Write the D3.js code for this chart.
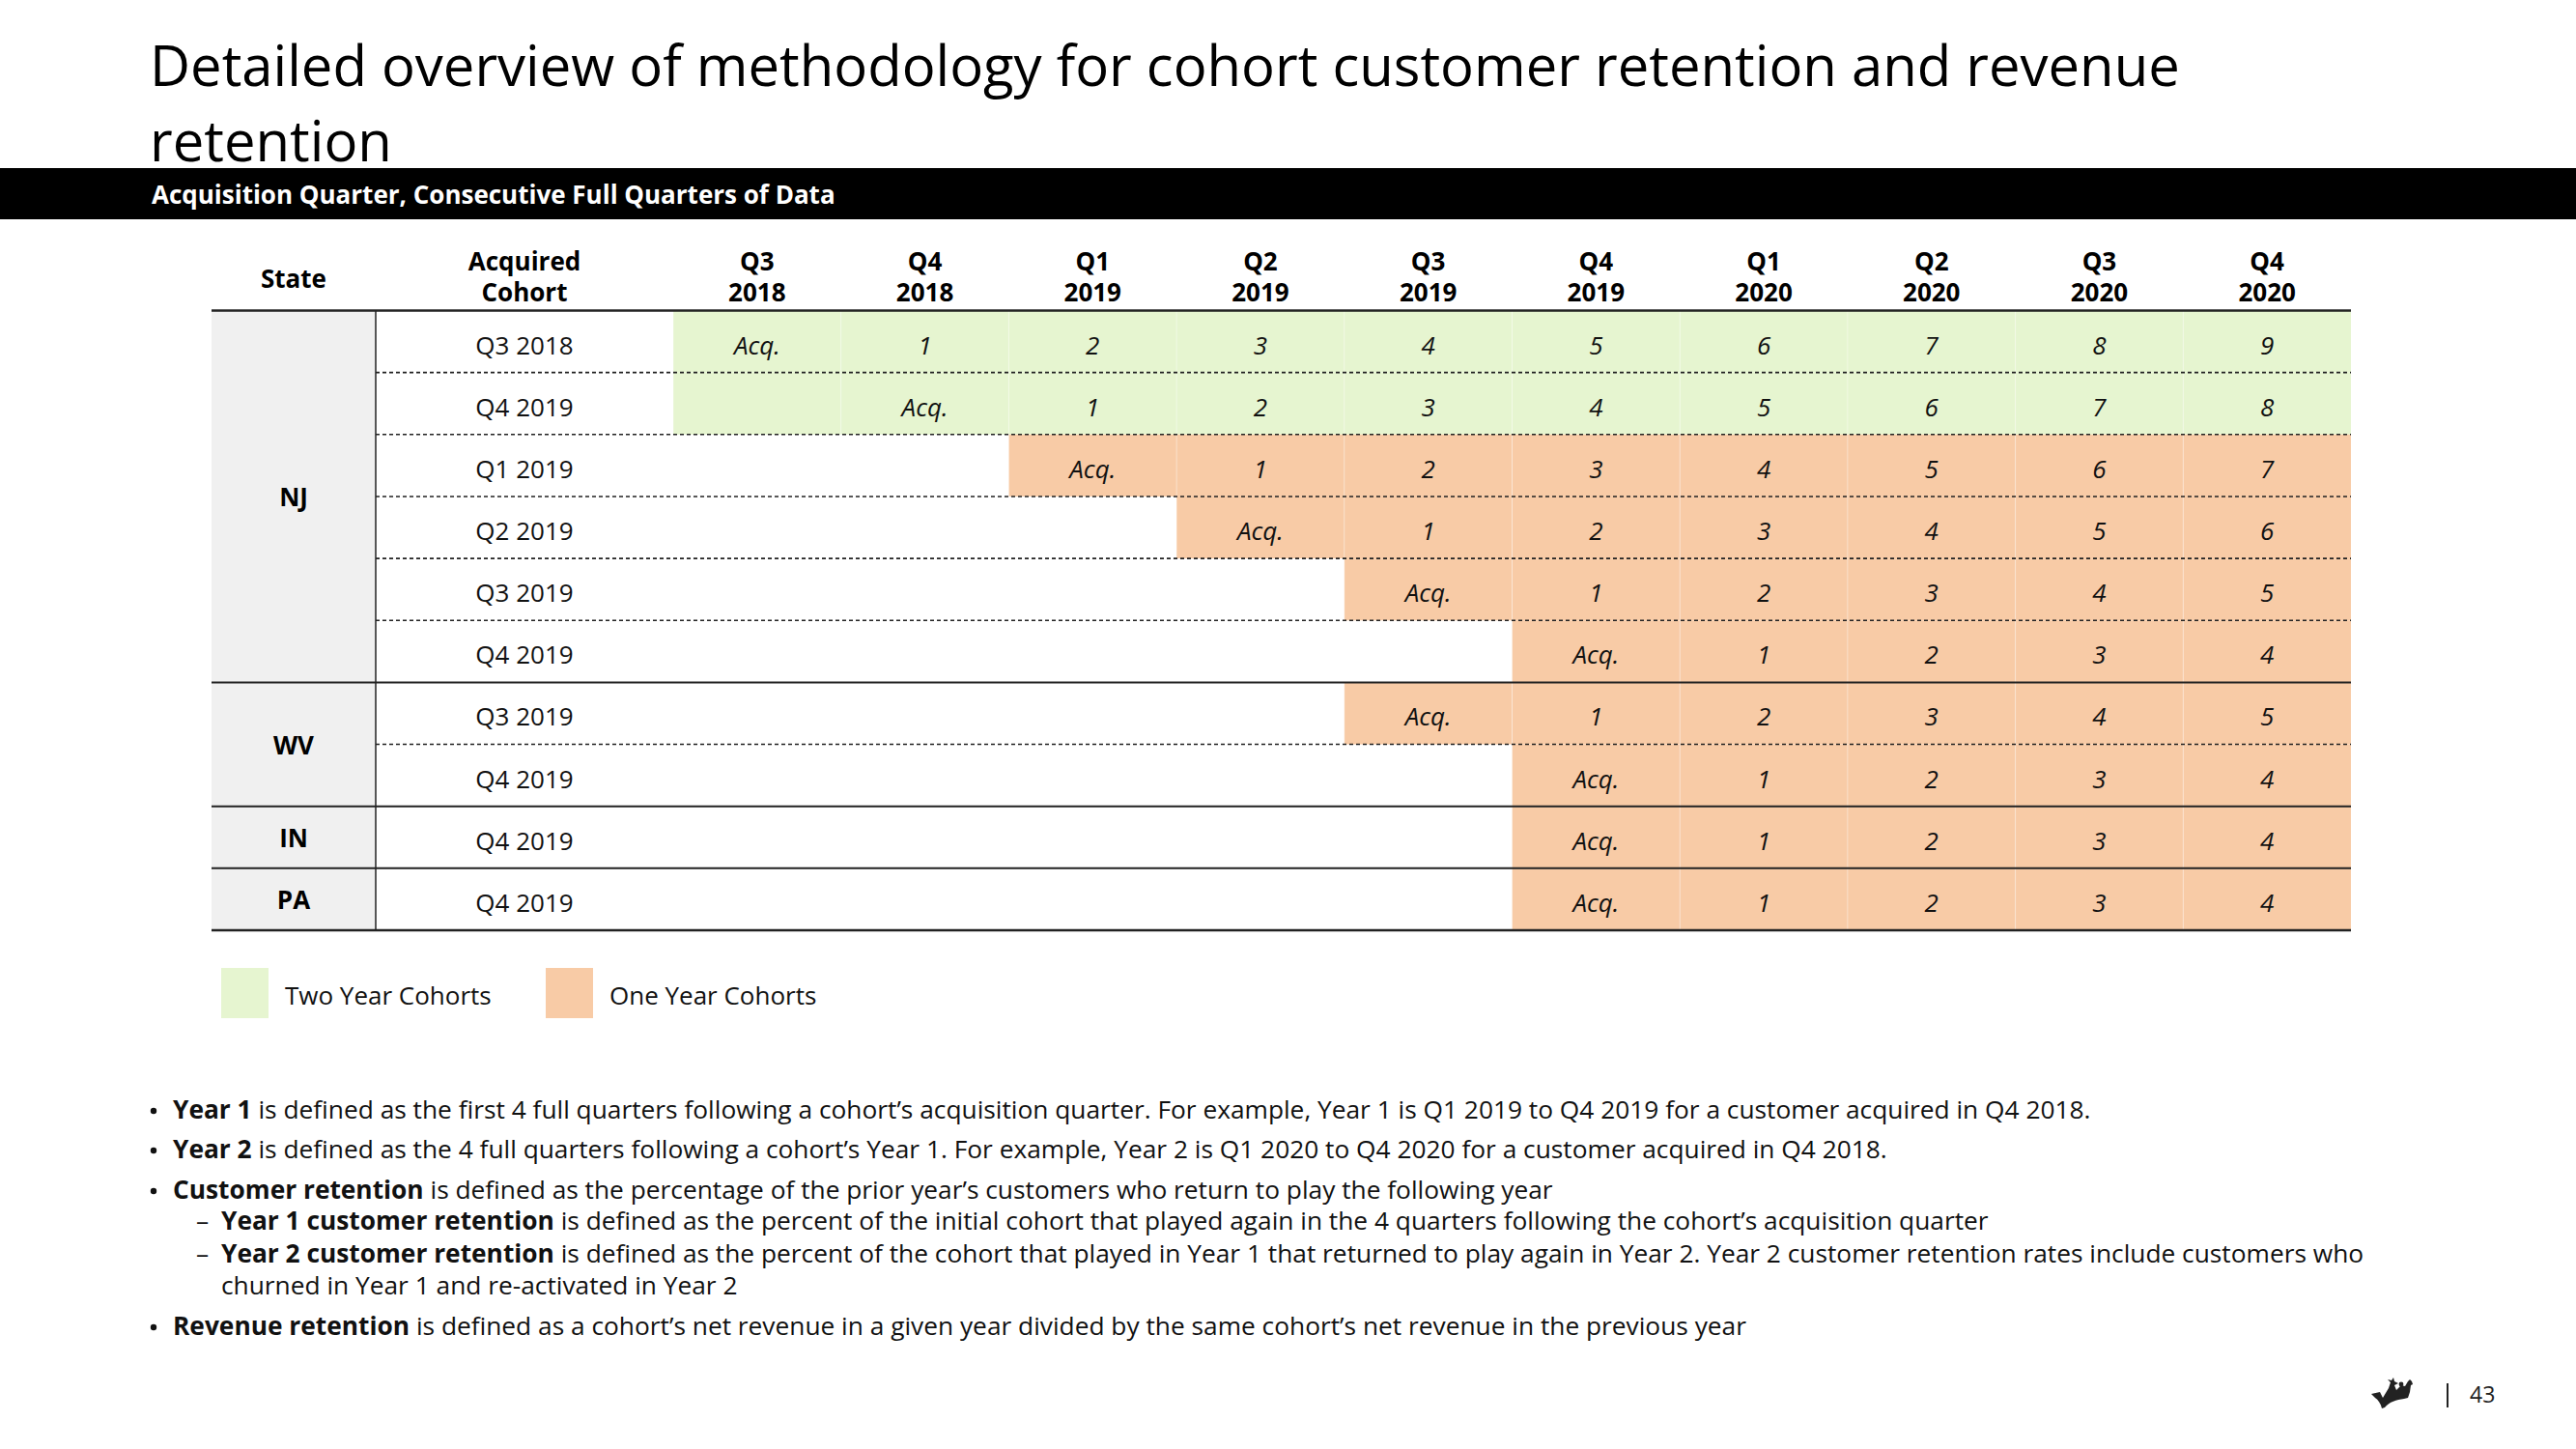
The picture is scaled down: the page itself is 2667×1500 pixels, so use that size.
<!DOCTYPE html>
<html>
<head>
<meta charset="utf-8">
<script src="https://cdn.jsdelivr.net/npm/d3@7/dist/d3.min.js"></script>
<style>
  html, body { margin: 0; padding: 0; background: #fff; }
  svg { display: block; font-family: "Open Sans", "Noto Sans", sans-serif; }
</style>
</head>
<body>
<script>
// ---------- DATA ----------
const quarterCols = ["Q3 2018","Q4 2018","Q1 2019","Q2 2019","Q3 2019","Q4 2019","Q1 2020","Q2 2020","Q3 2020","Q4 2020"];
const rowStates   = ["NJ","NJ","NJ","NJ","NJ","NJ","WV","WV","IN","PA"];
const rowCohorts  = ["Q3 2018","Q4 2019","Q1 2019","Q2 2019","Q3 2019","Q4 2019","Q3 2019","Q4 2019","Q4 2019","Q4 2019"];
const rowFillStart = ["Q3 2018","Q3 2018","Q1 2019","Q2 2019","Q3 2019","Q4 2019","Q3 2019","Q4 2019","Q4 2019","Q4 2019"];
const rowCohortType = ["two","two","one","one","one","one","one","one","one","one"];
const rowCellLabels = [
  ["Acq.","1","2","3","4","5","6","7","8","9"],
  ["","Acq.","1","2","3","4","5","6","7","8"],
  ["Acq.","1","2","3","4","5","6","7"],
  ["Acq.","1","2","3","4","5","6"],
  ["Acq.","1","2","3","4","5"],
  ["Acq.","1","2","3","4"],
  ["Acq.","1","2","3","4","5"],
  ["Acq.","1","2","3","4"],
  ["Acq.","1","2","3","4"],
  ["Acq.","1","2","3","4"]
];
const legendLabels = ["Two Year Cohorts","One Year Cohorts"];
const legendKeys = ["two","one"];
const titleLines = ["Detailed overview of methodology for cohort customer retention and revenue","retention"];
const subtitle = "Acquisition Quarter, Consecutive Full Quarters of Data";
const bullets = [
  {level:0, bold:"Year 1", text:" is defined as the first 4 full quarters following a cohort\u2019s acquisition quarter. For example, Year 1 is Q1 2019 to Q4 2019 for a customer acquired in Q4 2018."},
  {level:0, bold:"Year 2", text:" is defined as the 4 full quarters following a cohort\u2019s Year 1. For example, Year 2 is Q1 2020 to Q4 2020 for a customer acquired in Q4 2018."},
  {level:0, bold:"Customer retention", text:" is defined as the percentage of the prior year\u2019s customers who return to play the following year"},
  {level:1, bold:"Year 1 customer retention", text:" is defined as the percent of the initial cohort that played again in the 4 quarters following the cohort\u2019s acquisition quarter"},
  {level:1, bold:"Year 2 customer retention", text:" is defined as the percent of the cohort that played in Year 1 that returned to play again in Year 2. Year 2 customer retention rates include customers who"},
  {level:2, bold:"", text:"churned in Year 1 and re-activated in Year 2"},
  {level:0, bold:"Revenue retention", text:" is defined as a cohort\u2019s net revenue in a given year divided by the same cohort\u2019s net revenue in the previous year"}
];
const pageNumber = "43";

// ---------- STYLE ----------
const W = 2667, H = 1500;
const fillFor = {two: "#E6F5D0", one: "#F8CBA6"};
const stateFill = "#F0F0F0";
const FS = 26;

const svg = d3.select("body").append("svg").attr("width", W).attr("height", H);

// Title
svg.append("g").selectAll("text").data(titleLines).join("text")
  .attr("x", 155).attr("y", (d,i) => 89 + i*78)
  .attr("font-size", 58).attr("fill", "#000").text(d => d);

// Black bar
svg.append("rect").attr("x", 0).attr("y", 174).attr("width", W).attr("height", 53).attr("fill", "#000");
svg.append("text").attr("x", 157).attr("y", 211).attr("font-size", 26).attr("font-weight", 700)
  .attr("fill", "#fff").text(subtitle);

// ---------- TABLE ----------
const tableLeft = 219, stateRight = 389, gridLeft = 697, gridRight = 2434;
const tableTop = 321.5, tableBottom = 963;
const rowIdx = d3.range(rowStates.length);
const x = d3.scaleBand().domain(quarterCols).range([gridLeft, gridRight]);
const y = d3.scaleBand().domain(rowIdx).range([tableTop, tableBottom]);
const bw = x.bandwidth(), bh = y.bandwidth();

const tbl = svg.append("g");

// state groups
const groups = [];
rowStates.forEach((s,i) => {
  if (!groups.length || groups[groups.length-1].state !== s) groups.push({state:s, start:i, n:1});
  else groups[groups.length-1].n++;
});
tbl.selectAll("rect.state").data(groups).join("rect").attr("class","state")
  .attr("x", tableLeft).attr("width", stateRight - tableLeft)
  .attr("y", g => y(g.start)).attr("height", g => bh*g.n).attr("fill", stateFill);
tbl.selectAll("text.state").data(groups).join("text").attr("class","state")
  .attr("x", (tableLeft+stateRight)/2).attr("y", g => y(g.start) + bh*g.n/2 + 10)
  .attr("text-anchor","middle").attr("font-size", FS).attr("font-weight", 700).text(g => g.state);

// coloured cells
const cells = [];
rowIdx.forEach(r => {
  const start = quarterCols.indexOf(rowFillStart[r]);
  rowCellLabels[r].forEach((lab, k) => {
    cells.push({r, q: quarterCols[start+k], lab, type: rowCohortType[r]});
  });
});
tbl.selectAll("rect.cell").data(cells).join("rect").attr("class","cell")
  .attr("x", d => x(d.q)).attr("y", d => y(d.r)).attr("width", bw).attr("height", bh)
  .attr("fill", d => fillFor[d.type]);
tbl.selectAll("line.sep").data(cells).join("line").attr("class","sep")
  .attr("x1", d => x(d.q)).attr("x2", d => x(d.q))
  .attr("y1", d => y(d.r)).attr("y2", d => y(d.r)+bh)
  .attr("stroke", "#fff").attr("stroke-opacity", 0.35).attr("stroke-width", 1);
tbl.selectAll("text.cell").data(cells.filter(d => d.lab)).join("text").attr("class","cell")
  .attr("x", d => x(d.q) + bw/2).attr("y", d => y(d.r) + 45)
  .attr("text-anchor","middle").attr("font-size", FS).attr("font-style","italic").attr("fill","#111")
  .text(d => d.lab);

// cohort labels
tbl.selectAll("text.cohort").data(rowIdx).join("text").attr("class","cohort")
  .attr("x", (stateRight+gridLeft)/2).attr("y", r => y(r) + 45)
  .attr("text-anchor","middle").attr("font-size", FS).attr("fill","#111").text(r => rowCohorts[r]);

// header
const hdr = svg.append("g").attr("font-weight", 700).attr("font-size", FS).attr("text-anchor","middle");
hdr.append("text").attr("x", (tableLeft+stateRight)/2).attr("y", 298).text("State");
hdr.append("text").attr("x", (stateRight+gridLeft)/2).attr("y", 280).text("Acquired");
hdr.append("text").attr("x", (stateRight+gridLeft)/2).attr("y", 312).text("Cohort");
const colHdr = hdr.selectAll("g.col").data(quarterCols).join("g").attr("class","col");
colHdr.append("text").attr("x", q => x(q)+bw/2).attr("y", 280).text(q => q.split(" ")[0]);
colHdr.append("text").attr("x", q => x(q)+bw/2).attr("y", 312).text(q => q.split(" ")[1]);

// lines
const lines = svg.append("g");
rowIdx.slice(1).forEach(r => {
  const newGroup = rowStates[r] !== rowStates[r-1];
  lines.append("line")
    .attr("x1", newGroup ? tableLeft : stateRight).attr("x2", gridRight)
    .attr("y1", y(r)).attr("y2", y(r))
    .attr("stroke", "#222")
    .attr("stroke-width", newGroup ? 2 : 1.6)
    .attr("stroke-dasharray", newGroup ? null : "4,3");
});
lines.append("line").attr("x1", tableLeft).attr("x2", gridRight).attr("y1", tableTop).attr("y2", tableTop)
  .attr("stroke", "#222").attr("stroke-width", 2.5);
lines.append("line").attr("x1", tableLeft).attr("x2", gridRight).attr("y1", tableBottom).attr("y2", tableBottom)
  .attr("stroke", "#222").attr("stroke-width", 2.5);
lines.append("line").attr("x1", stateRight).attr("x2", stateRight).attr("y1", tableTop).attr("y2", tableBottom)
  .attr("stroke", "#222").attr("stroke-width", 1.5);

// ---------- LEGEND ----------
const leg = svg.append("g");
const legX = [229, 565];
leg.selectAll("rect").data(legendKeys).join("rect")
  .attr("x", (d,i) => legX[i]).attr("y", 1002).attr("width", 49).attr("height", 52)
  .attr("fill", d => fillFor[d]);
leg.selectAll("text").data(legendLabels).join("text")
  .attr("x", (d,i) => legX[i] + 66).attr("y", 1040).attr("font-size", 26).attr("fill","#111").text(d => d);

// ---------- BULLETS ----------
const bulletY = [1158, 1199, 1241, 1273, 1307, 1340, 1382];
const bg = svg.append("g").attr("font-size", 26.3).attr("fill", "#111");
bullets.forEach((b, i) => {
  const tx = b.level === 0 ? 179 : 229;
  if (b.level === 0) bg.append("circle").attr("cx", 159).attr("cy", bulletY[i] - 8).attr("r", 3.2).attr("fill", "#111");
  if (b.level === 1) bg.append("text").attr("x", 203).attr("y", bulletY[i]).text("\u2013");
  const t = bg.append("text").attr("x", tx).attr("y", bulletY[i]);
  if (b.bold) t.append("tspan").attr("font-weight", 700).text(b.bold);
  t.append("tspan").text(b.text);
});

// ---------- FOOTER ----------
const crown = svg.append("g").attr("transform", "translate(2455,1427)");
crown.append("path").attr("fill", "#222")
  .attr("d", "M0,16 L9,14 L12,20 L18,10 L20,4 L17,1 L21,2 L23,-1 L24,3 L28,5 L24,7 L26,12 L31,7 L35,8 L38,3 L40,1 L42,3 L43,6 L41,7 L40,14 L38,20 L34,21 C26,22 19,24 14,30 L11,31 C10,26 7,22 4,20 Z");
crown.append("circle").attr("cx", 31).attr("cy", 6).attr("r", 2.4).attr("fill", "#222");
svg.append("line").attr("x1", 2534).attr("x2", 2534).attr("y1", 1432).attr("y2", 1457).attr("stroke", "#222").attr("stroke-width", 2);
svg.append("text").attr("x", 2557).attr("y", 1452).attr("font-size", 23).attr("fill", "#222").text(pageNumber);
</script>
</body>
</html>
